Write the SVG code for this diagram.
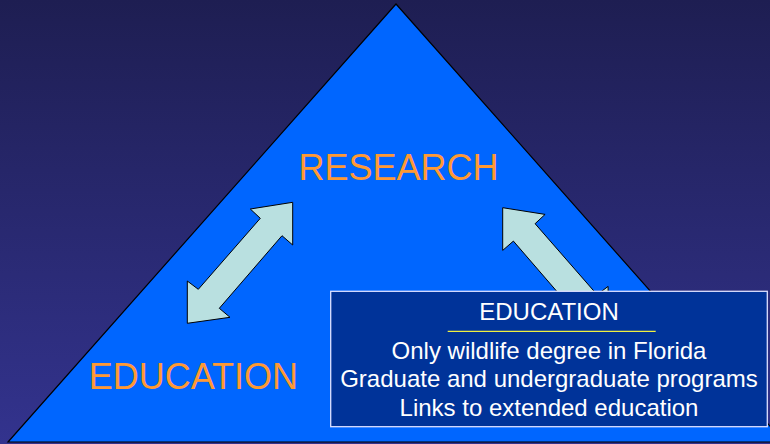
<svg xmlns="http://www.w3.org/2000/svg" width="770" height="444" viewBox="0 0 770 444">
  <defs>
    <linearGradient id="bg" x1="0" y1="0" x2="0" y2="1">
      <stop offset="0" stop-color="#1e1e52"/>
      <stop offset="1" stop-color="#33338e"/>
    </linearGradient>
    <path id="dblArrow" d="M292.7,202.3 L250.3,209 L260.3,218.3 L198.3,289.3 L187.3,281 L187.3,323.3 L230,317.3 L219.3,308.3 L282,235.7 L292.7,245 Z"/>
  </defs>
  <style>
    .big { font-family: "Liberation Sans", Arial, sans-serif; font-size: 36px; fill: #ff9933; text-anchor: middle; }
    .box { font-family: "Liberation Sans", Arial, sans-serif; font-size: 24px; fill: #ffffff; text-anchor: middle; }
    .arrow { fill: #b9e0e0; stroke: #000000; stroke-width: 1; stroke-linejoin: miter; }
  </style>
  <rect x="0" y="0" width="770" height="444" fill="url(#bg)"/>
  <g id="triangle">
    <polygon points="396,4 8,442 784,442" fill="#0066ff" stroke="#000000" stroke-width="1.2"/>
  </g>
  <g id="research">
    <text class="big" x="398.5" y="180">RESEARCH</text>
  </g>
  <g id="education">
    <text class="big" x="193.3" y="389">EDUCATION</text>
  </g>
  <g id="connectors">
    <use href="#dblArrow" class="arrow"/>
    <use href="#dblArrow" class="arrow" transform="translate(795.4,5.4) scale(-1,1)"/>
  </g>
  <g id="education-box">
    <rect x="330.7" y="291.3" width="436.6" height="135.4" fill="#003399" stroke="#dde0ff" stroke-width="1.3"/>
    <text class="box" x="549" y="320">EDUCATION</text>
    <line x1="447.7" y1="331.3" x2="655.7" y2="331.3" stroke="#f0f040" stroke-width="1.3"/>
    <text class="box" x="549" y="359">Only wildlife degree in Florida</text>
    <text class="box" x="549" y="387">Graduate and undergraduate programs</text>
    <text class="box" x="549" y="416">Links to extended education</text>
  </g>
</svg>
